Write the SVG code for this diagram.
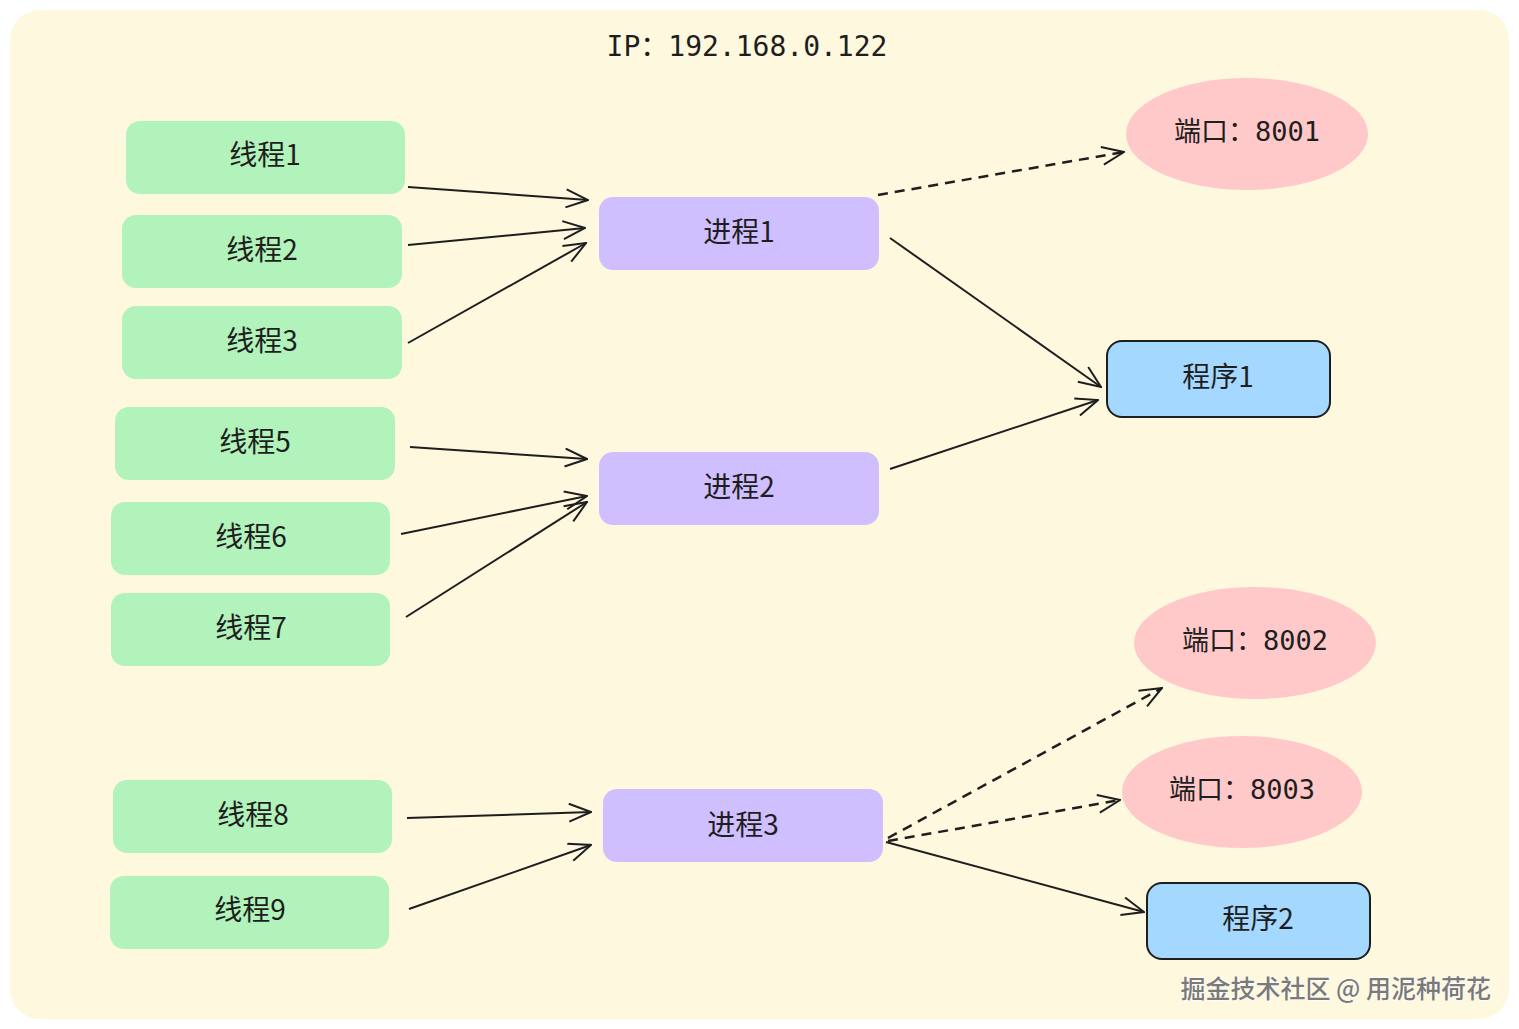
<svg xmlns="http://www.w3.org/2000/svg" width="1519" height="1029" viewBox="0 0 1519 1029">
<defs>
<style>
.bg{fill:#fef8df}
.th{fill:#b2f2bb}
.pr{fill:#d0bfff}
.po{fill:#ffc9c9}
.ap{fill:#a5d8ff;stroke:#1e1e1e;stroke-width:2}
.t{font-family:"Noto Sans CJK SC","Noto Sans",sans-serif;font-size:28px;fill:#1e1e1e;text-anchor:middle;dominant-baseline:central}
.m{font-family:"DejaVu Sans Mono","Noto Sans CJK SC",monospace;font-size:27px;fill:#1e1e1e;text-anchor:middle;dominant-baseline:central}
.c{fill:none;stroke:#1e1e1e;stroke-width:2;marker-end:url(#ah)}
.d{stroke-dasharray:10 7;stroke-width:2.5}
.wm{font-family:"Noto Sans CJK SC",sans-serif;font-size:25px;font-weight:500;fill:#7a7a7a;stroke:#ffffff;stroke-width:1;paint-order:stroke;text-anchor:end;dominant-baseline:central}
</style>
<marker id="ah" viewBox="0 0 24 20" refX="23" refY="10" markerWidth="24" markerHeight="20" markerUnits="userSpaceOnUse" orient="auto">
<path d="M1,1 L23,10 L1,19" fill="none" stroke="#1e1e1e" stroke-width="2"/>
</marker>
</defs>
<rect class="bg" x="10" y="10" width="1499" height="1009" rx="30"/>
<text class="m" x="747" y="46" style="font-size:28px">IP：192.168.0.122</text>

<g id="connectors">
<path class="c" d="M408,187 L588,200"/>
<path class="c" d="M408,245 L585,228"/>
<path class="c" d="M408,343 L586,243"/>
<path class="c" d="M410,447 L587,459"/>
<path class="c" d="M401,534 L587,496"/>
<path class="c" d="M406,617 L587,502"/>
<path class="c" d="M407,818 L591,812"/>
<path class="c" d="M409,909 L591,845"/>
<path class="c d" d="M878,195 L1124,152"/>
<path class="c" d="M890,238 L1101,387"/>
<path class="c" d="M890,469 L1098,400"/>
<path class="c d" d="M888,838 L1162,688"/>
<path class="c d" d="M888,841 L1120,800"/>
<path class="c" d="M886,842 L1144,912"/>
</g>

<g id="t1"><rect class="th" x="126" y="121" width="279" height="73" rx="14"/><text class="t" x="265" y="153">线程1</text></g>
<g id="t2"><rect class="th" x="122" y="215" width="280" height="73" rx="14"/><text class="t" x="262" y="248">线程2</text></g>
<g id="t3"><rect class="th" x="122" y="306" width="280" height="73" rx="14"/><text class="t" x="262" y="339">线程3</text></g>
<g id="t5"><rect class="th" x="115" y="407" width="280" height="73" rx="14"/><text class="t" x="255" y="440">线程5</text></g>
<g id="t6"><rect class="th" x="111" y="502" width="279" height="73" rx="14"/><text class="t" x="251" y="535">线程6</text></g>
<g id="t7"><rect class="th" x="111" y="593" width="279" height="73" rx="14"/><text class="t" x="251" y="626">线程7</text></g>
<g id="t8"><rect class="th" x="113" y="780" width="279" height="73" rx="14"/><text class="t" x="253" y="813">线程8</text></g>
<g id="t9"><rect class="th" x="110" y="876" width="279" height="73" rx="14"/><text class="t" x="250" y="908">线程9</text></g>

<g id="p1"><rect class="pr" x="599" y="197" width="280" height="73" rx="14"/><text class="t" x="739" y="230">进程1</text></g>
<g id="p2"><rect class="pr" x="599" y="452" width="280" height="73" rx="14"/><text class="t" x="739" y="485">进程2</text></g>
<g id="p3"><rect class="pr" x="603" y="789" width="280" height="73" rx="14"/><text class="t" x="743" y="823">进程3</text></g>

<g id="port8001"><ellipse class="po" cx="1247" cy="134" rx="121" ry="56"/><text class="m" x="1247" y="131">端口：8001</text></g>
<g id="port8002"><ellipse class="po" cx="1255" cy="643" rx="121" ry="56"/><text class="m" x="1255" y="640">端口：8002</text></g>
<g id="port8003"><ellipse class="po" cx="1242" cy="792" rx="120" ry="56"/><text class="m" x="1242" y="789">端口：8003</text></g>

<g id="app1"><rect class="ap" x="1107" y="341" width="223" height="76" rx="15"/><text class="t" x="1218" y="375">程序1</text></g>
<g id="app2"><rect class="ap" x="1147" y="883" width="223" height="76" rx="15"/><text class="t" x="1258" y="917">程序2</text></g>

<text class="wm" x="1491" y="987">掘金技术社区 @ 用泥种荷花</text>
</svg>
